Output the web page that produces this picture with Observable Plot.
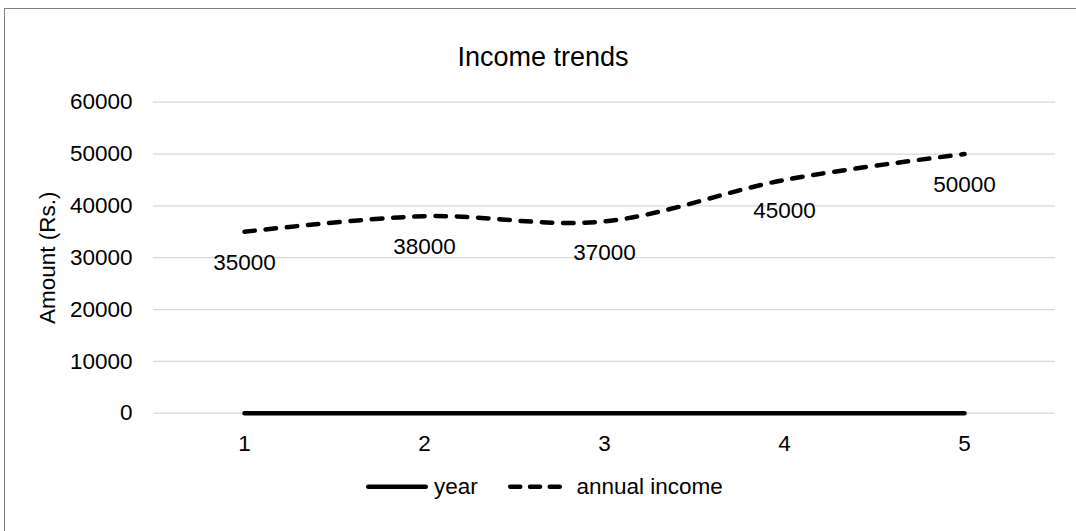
<!DOCTYPE html>
<html><head><meta charset="utf-8">
<script src="https://cdn.jsdelivr.net/npm/d3@7"></script>
<script src="https://cdn.jsdelivr.net/npm/@observablehq/plot@0.6"></script>
<style>
html,body{margin:0;padding:0;background:#fff;overflow:hidden;width:1076px;height:531px;}
#frame{position:absolute;left:4px;top:8px;width:1200px;height:700px;border:1px solid #7f7f7f;box-sizing:border-box;}
#title{position:absolute;left:0;top:44.4px;width:1086px;text-align:center;font-family:"Liberation Sans",Arial,sans-serif;font-size:27px;line-height:27px;color:#000;}
#chart{position:absolute;left:0;top:80px;}
#legend{position:absolute;left:0;top:470px;}
</style></head><body>
<div id="frame"></div>
<div id="title">Income trends</div>
<div id="chart"></div>
<svg id="legend" width="1076" height="40"></svg>
<script>
const categories = [1, 2, 3, 4, 5];
const yearValues = [1, 2, 3, 4, 5];
const incomeValues = [35000, 38000, 37000, 45000, 50000];
const yTicks = [0, 10000, 20000, 30000, 40000, 50000, 60000];
const seriesNames = ["year", "annual income"];
const yLabel = "Amount (Rs.)";
const titleText = "Income trends";

document.getElementById("title").textContent = titleText;

const rows = categories.map((c, i) => ({cat: c, year: yearValues[i], income: incomeValues[i]}));
const FONT = '"Liberation Sans", Arial, sans-serif';

const chart = Plot.plot({
  width: 1076, height: 390,
  marginLeft: 153, marginRight: 21, marginTop: 21.7, marginBottom: 57.3,
  style: {fontFamily: FONT, fontSize: "22.5px", color: "#000", background: "transparent", overflow: "visible"},
  x: {type: "point", domain: categories, padding: 0.5, label: null, tickSize: 0, tickPadding: 22.3, tickFormat: d => String(d)},
  y: {domain: [0, 60000], ticks: yTicks, label: null, tickSize: 0, tickPadding: 21, tickFormat: d => String(d)},
  marks: [
    Plot.gridY(yTicks, {stroke: "#d9d9d9", strokeOpacity: 1, strokeWidth: 1.3}),
    Plot.lineY(rows, {x: "cat", y: "year", stroke: "#000", strokeWidth: 4.5, strokeLinecap: "round", curve: "cardinal", tension: 0}),
    Plot.lineY(rows, {x: "cat", y: "income", stroke: "#000", strokeWidth: 4.5, strokeLinecap: "round", strokeDasharray: "10.5,10.8", curve: "cardinal", tension: 0}),
    Plot.text(rows, {x: "cat", y: "income", text: d => String(d.income), dy: 31, fill: "#000"}),
    Plot.text([yLabel], {frameAnchor: "left", textAnchor: "middle", lineAnchor: "middle", text: d => d, rotate: -90, dx: -106, fill: "#000"})
  ]
});
document.getElementById("chart").appendChild(chart);

// Legend
const lg = d3.select("#legend");
const items = [
  {name: seriesNames[0], x1: 368.25, x2: 425.75, tx: 434, dash: null},
  {name: seriesNames[1], x1: 510.25, x2: 560.75, tx: 576.5, dash: "10,9.75"}
];
for (const it of items) {
  const l = lg.append("line")
    .attr("x1", it.x1).attr("x2", it.x2).attr("y1", 16.7).attr("y2", 16.7)
    .attr("stroke", "#000").attr("stroke-width", 4.5).attr("stroke-linecap", "round");
  if (it.dash) l.attr("stroke-dasharray", it.dash);
  lg.append("text").attr("x", it.tx).attr("y", 24.4)
    .attr("font-family", FONT).attr("font-size", 22.5).attr("fill", "#000")
    .text(it.name);
}
</script>
</body></html>
